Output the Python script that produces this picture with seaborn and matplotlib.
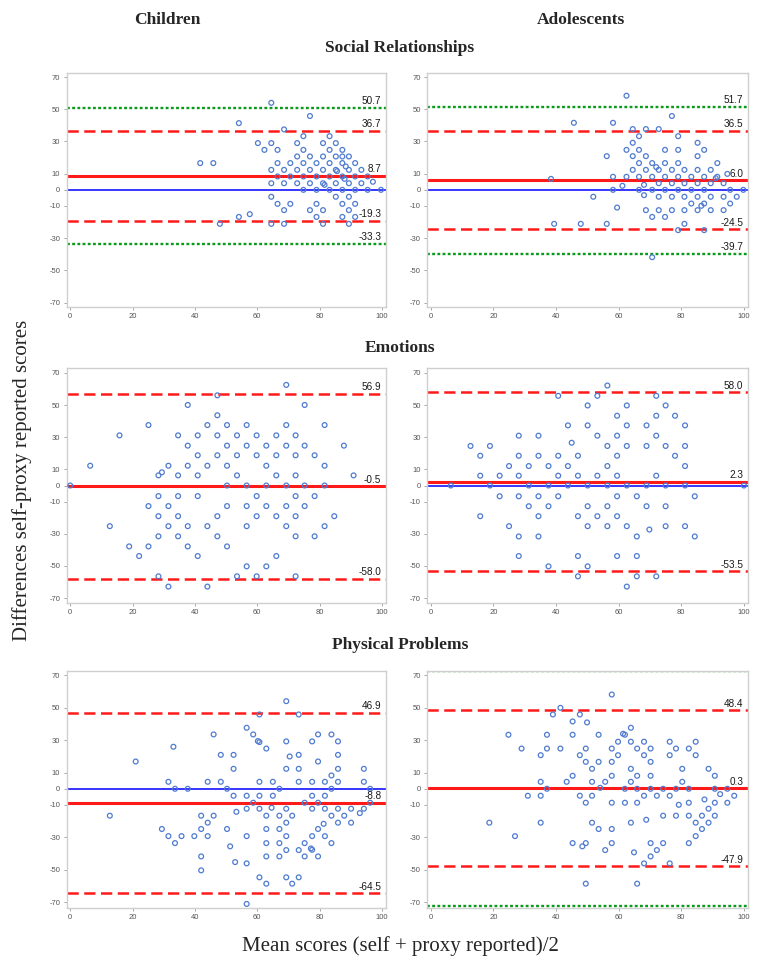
import matplotlib
matplotlib.use("Agg")
import matplotlib.pyplot as plt
import seaborn as sns
import pandas as pd

sns.set_theme(style="white")
plt.rcParams['font.family'] = ['Liberation Sans', 'DejaVu Sans']
plt.rcParams['axes.unicode_minus'] = False

# ---------------- data ----------------
# Children - Social Relationships
sr_child_x = [64.5, 76.9, 54.1, 68.6, 60.2, 64.5, 62.3, 66.5, 72.8, 74.8, 83.2, 81.1, 85.2, 72.8, 76.9, 74.8,
              83.2, 81.1, 85.2, 87.3, 87.3, 41.7, 45.9, 66.5, 70.6, 74.8, 79.0, 83.2, 87.3, 89.4, 91.4, 88.4,
              64.5, 68.6, 72.8, 76.9, 81.1, 85.2, 85.6, 89.4, 93.4, 66.5, 70.6, 74.8, 79.0, 83.2, 87.3, 88.0,
              91.4, 95.4, 64.5, 68.6, 72.8, 76.9, 81.1, 81.6, 85.2, 89.4, 93.4, 97.1, 74.8, 79.0, 83.2, 87.3,
              91.4, 95.4, 99.7, 64.5, 85.2, 89.4, 66.5, 70.6, 79.0, 87.3, 91.4, 68.6, 76.9, 81.1, 89.4, 54.1,
              57.6, 79.0, 87.3, 91.4, 48.0, 64.5, 68.6, 81.1, 89.4]
sr_child_y = [54.0, 45.8, 41.4, 37.5, 29.0, 29.0, 24.8, 24.8, 29.0, 33.3, 33.3, 29.0, 29.0, 20.7, 20.7, 24.8,
              24.8, 20.7, 20.7, 24.8, 20.7, 16.6, 16.6, 16.6, 16.6, 16.6, 16.6, 16.6, 16.6, 20.7, 16.6, 14.5,
              12.4, 12.4, 12.4, 12.4, 12.4, 12.4, 11.6, 12.4, 12.4, 8.3, 8.3, 8.3, 8.3, 8.3, 8.3, 6.8,
              8.3, 8.3, 4.1, 4.1, 4.1, 4.1, 4.1, 3.1, 4.1, 4.1, 4.1, 5.0, 0.0, 0.0, 0.0, 0.0,
              0.0, 0.0, 0.0, -4.3, -4.3, -4.3, -8.7, -8.7, -8.7, -8.7, -8.7, -12.6, -12.6, -12.6, -12.6, -16.8,
              -15.1, -16.8, -16.8, -16.8, -21.1, -21.1, -21.1, -21.1, -21.1]
sr_child_lines = [50.7, 36.7, 8.7, -19.3, -33.3]

# Adolescents - Social Relationships
sr_adol_x = [62.5, 77.0, 45.7, 58.2, 64.5, 68.7, 72.8, 66.5, 79.0, 64.5, 85.2, 62.5, 66.5, 74.8, 79.0, 87.3,
             56.2, 64.5, 68.7, 85.2, 66.5, 70.7, 74.8, 79.0, 91.5, 72.0, 64.5, 68.7, 72.8, 77.0, 81.0, 85.2,
             89.4, 94.7, 38.4, 58.2, 62.5, 66.5, 70.7, 74.8, 79.0, 83.2, 87.3, 91.5, 91.0, 61.2, 68.1, 72.8,
             77.0, 81.0, 85.2, 89.4, 93.5, 58.2, 66.5, 70.7, 74.8, 79.0, 83.2, 87.3, 95.6, 99.8, 51.9, 68.1,
             72.8, 77.0, 81.0, 85.2, 89.4, 93.5, 97.7, 83.2, 87.3, 95.6, 86.4, 59.5, 68.7, 72.8, 77.0, 81.0,
             85.2, 89.4, 93.5, 70.7, 74.8, 39.4, 47.9, 56.2, 81.0, 79.0, 87.3, 70.7]
sr_adol_y = [58.4, 45.8, 41.6, 41.6, 37.7, 37.7, 37.7, 33.3, 33.3, 29.2, 29.2, 24.8, 24.8, 24.8, 24.8, 24.8,
             20.9, 20.9, 20.9, 20.9, 16.6, 16.6, 16.6, 16.6, 16.6, 14.1, 12.4, 12.4, 12.4, 12.4, 12.4, 12.4,
             12.4, 9.9, 6.8, 8.1, 8.1, 8.1, 8.1, 8.1, 8.1, 8.1, 8.1, 8.1, 7.2, 2.5, 3.1, 4.1,
             4.1, 4.1, 4.1, 4.1, 4.1, 0.0, 0.0, 0.0, 0.0, 0.0, 0.0, 0.0, 0.0, 0.0, -4.3, -3.3,
             -4.3, -4.3, -4.3, -4.3, -4.3, -4.3, -4.3, -8.5, -8.5, -8.5, -9.9, -11.0, -12.6, -12.6, -12.6, -12.6,
             -12.6, -12.6, -12.6, -16.8, -16.8, -21.1, -21.1, -21.1, -21.1, -25.0, -25.0, -41.8]
sr_adol_lines = [51.7, 36.5, 6.0, -24.5, -39.7]

# Children - Emotions
em_child_x = [69.3, 47.2, 37.7, 75.2, 47.2, 25.1, 44.0, 50.3, 56.6, 69.3, 81.6, 15.8, 34.6, 40.9, 47.2, 53.5,
              59.8, 66.1, 72.3, 37.7, 50.3, 56.6, 62.9, 69.3, 75.2, 87.8, 40.9, 47.2, 53.5, 59.8, 66.1, 72.3,
              78.4, 6.4, 31.5, 37.7, 44.0, 50.3, 62.9, 81.6, 28.3, 29.4, 34.6, 40.9, 53.5, 66.1, 72.3, 90.9,
              0.0, 50.3, 56.6, 62.9, 69.3, 75.2, 81.6, 28.3, 34.6, 40.9, 59.8, 72.3, 78.4, 25.1, 31.5, 50.3,
              56.6, 62.9, 69.3, 75.2, 28.3, 34.6, 47.2, 59.8, 66.1, 72.3, 84.7, 12.7, 31.5, 37.7, 44.0, 56.6,
              69.3, 81.6, 28.3, 34.6, 47.2, 72.3, 78.4, 18.9, 25.1, 37.7, 50.3, 22.1, 40.9, 66.1, 56.6, 62.9,
              28.3, 53.5, 59.8, 72.3, 31.5, 44.0]
em_child_y = [62.6, 56.1, 50.1, 50.1, 43.7, 37.6, 37.6, 37.6, 37.6, 37.6, 37.6, 31.2, 31.2, 31.2, 31.2, 31.2,
              31.2, 31.2, 31.2, 24.8, 24.8, 24.8, 24.8, 24.8, 24.8, 24.8, 18.8, 18.8, 18.8, 18.8, 18.8, 18.8,
              18.8, 12.3, 12.3, 12.3, 12.3, 12.3, 12.3, 12.3, 6.3, 8.2, 6.3, 6.3, 6.3, 6.3, 6.3, 6.3,
              0.0, 0.0, 0.0, 0.0, 0.0, 0.0, 0.0, -6.6, -6.6, -6.6, -6.6, -6.6, -6.6, -12.8, -12.8, -12.8,
              -12.8, -12.8, -12.8, -12.8, -19.1, -19.1, -19.1, -19.1, -19.1, -19.1, -19.1, -25.3, -25.3, -25.3, -25.3, -25.3,
              -25.3, -25.3, -31.6, -31.6, -31.6, -31.6, -31.6, -37.9, -37.9, -37.9, -37.9, -43.9, -43.9, -43.9, -50.3, -50.3,
              -56.5, -56.5, -56.5, -56.5, -62.9, -62.9]
em_child_lines = [56.9, -0.5, -58.0]

# Adolescents - Emotions
em_adol_x = [56.4, 40.7, 53.2, 72.0, 50.1, 62.6, 75.0, 59.5, 72.0, 78.0, 43.8, 50.1, 62.6, 68.9, 81.2, 28.1,
             34.4, 53.2, 59.5, 72.0, 12.7, 18.9, 45.0, 56.4, 62.6, 68.9, 75.0, 81.2, 15.8, 28.1, 34.4, 40.7,
             47.0, 59.5, 78.0, 25.0, 31.3, 37.6, 43.8, 56.4, 81.2, 15.8, 22.0, 28.1, 40.7, 47.0, 53.2, 59.5,
             72.0, 6.4, 18.9, 31.3, 37.6, 43.8, 50.1, 56.4, 62.6, 68.9, 75.0, 81.2, 100.0, 22.0, 28.1, 34.4,
             40.7, 59.5, 65.8, 84.3, 31.3, 37.6, 50.1, 56.4, 68.9, 75.0, 15.8, 34.4, 47.0, 53.2, 59.5, 25.0,
             50.1, 56.4, 62.6, 69.8, 75.0, 81.2, 28.1, 34.4, 65.8, 84.3, 28.1, 47.0, 59.5, 65.8, 37.6, 50.1,
             47.0, 65.8, 72.0, 62.6]
em_adol_y = [62.2, 55.8, 55.8, 55.8, 49.8, 49.8, 49.8, 43.4, 43.4, 43.4, 37.4, 37.4, 37.4, 37.4, 37.4, 31.0,
             31.0, 31.0, 31.0, 31.0, 24.6, 24.6, 26.6, 24.6, 24.6, 24.6, 24.6, 24.6, 18.5, 18.5, 18.5, 18.5,
             18.5, 18.5, 18.5, 12.1, 12.1, 12.1, 12.1, 12.1, 12.1, 6.1, 6.1, 6.1, 6.1, 6.1, 6.1, 6.1,
             6.1, 0.0, 0.0, 0.0, 0.0, 0.0, 0.0, 0.0, 0.0, 0.0, 0.0, 0.0, 0.0, -6.7, -6.7, -6.7,
             -6.7, -6.7, -6.7, -6.7, -12.9, -12.9, -12.9, -12.9, -12.9, -12.9, -19.1, -19.1, -19.1, -19.1, -19.1, -25.3,
             -25.3, -25.3, -25.3, -27.4, -25.3, -25.3, -31.7, -31.7, -31.7, -31.7, -43.9, -43.9, -43.9, -43.9, -50.3, -50.3,
             -56.5, -56.5, -56.5, -62.9]
em_adol_lines = [58.0, 2.3, -53.5]

# Children - Physical Problems
pp_child_x = [69.3, 60.7, 73.3, 56.6, 46.0, 58.7, 79.5, 83.8, 60.2, 60.7, 69.3, 77.6, 85.9, 33.1, 62.9, 48.3,
              52.4, 70.4, 73.3, 85.9, 21.0, 79.5, 52.4, 69.3, 73.3, 85.9, 94.2, 83.8, 31.5, 44.1, 48.3, 60.7,
              65.0, 73.3, 77.6, 81.7, 85.9, 94.2, 33.6, 37.7, 50.3, 67.1, 83.8, 96.2, 52.4, 56.6, 60.7, 65.0,
              77.6, 81.7, 58.7, 75.2, 79.5, 96.2, 56.6, 60.7, 64.6, 69.3, 77.6, 81.7, 85.9, 90.1, 94.2, 53.3,
              12.7, 42.0, 46.0, 62.9, 67.1, 71.2, 83.8, 87.9, 92.9, 44.1, 69.3, 81.3, 85.9, 90.1, 29.4, 42.0,
              50.3, 62.9, 67.1, 79.5, 31.5, 35.7, 39.8, 44.1, 56.6, 69.3, 77.6, 81.7, 33.6, 62.9, 67.1, 75.2,
              83.8, 51.3, 77.2, 77.6, 69.3, 73.3, 42.0, 62.9, 67.1, 75.2, 79.5, 52.9, 56.6, 42.0, 60.7, 69.3,
              73.3, 62.9, 71.2, 56.6]
pp_child_y = [54.0, 45.8, 45.8, 37.6, 33.5, 33.5, 33.5, 33.5, 29.4, 28.8, 29.2, 29.2, 29.2, 25.9, 24.8, 20.9,
              20.9, 19.9, 20.9, 20.9, 16.8, 16.8, 12.3, 12.3, 12.3, 12.3, 12.3, 8.2, 4.3, 4.3, 4.3, 4.3,
              4.3, 4.3, 4.3, 4.3, 4.3, 4.3, 0.0, 0.0, 0.0, 0.0, 0.0, 0.0, -4.3, -4.3, -4.3, -4.3,
              -4.3, -4.3, -8.6, -8.6, -8.6, -8.6, -12.3, -12.3, -11.7, -12.3, -12.3, -12.3, -12.3, -12.3, -12.3, -14.2,
              -16.6, -16.6, -16.6, -16.6, -16.6, -16.6, -16.6, -16.6, -15.0, -20.9, -20.9, -21.6, -20.9, -20.9, -24.8, -24.8,
              -24.8, -24.8, -24.8, -24.8, -29.2, -29.2, -29.2, -29.2, -29.2, -29.2, -29.2, -29.2, -33.5, -33.5, -33.5, -33.5,
              -33.5, -35.5, -36.8, -37.6, -37.8, -37.8, -41.7, -41.7, -41.7, -41.7, -41.7, -45.2, -46.0, -50.3, -54.6, -54.6,
              -54.6, -58.5, -58.5, -71.0]
pp_child_lines = [46.9, -8.8, -64.5]

# Adolescents - Physical Problems
pp_adol_x = [57.8, 41.4, 39.0, 47.6, 45.3, 49.9, 63.9, 24.8, 37.1, 45.3, 53.6, 61.4, 62.0, 59.8, 63.9, 68.1,
             76.3, 84.6, 29.0, 37.1, 41.4, 49.5, 57.8, 65.9, 70.2, 78.3, 82.4, 35.1, 47.6, 59.8, 68.1, 76.3,
             84.6, 49.5, 53.6, 57.8, 70.2, 51.5, 63.9, 80.3, 88.7, 45.3, 57.8, 65.9, 70.2, 90.7, 35.1, 43.4,
             51.5, 55.7, 63.9, 80.3, 37.1, 54.1, 62.0, 65.9, 70.2, 74.2, 78.3, 82.4, 90.7, 94.7, 31.0, 35.1,
             47.6, 51.5, 68.1, 72.2, 76.3, 92.4, 96.9, 87.4, 49.5, 57.8, 62.0, 65.9, 82.4, 90.7, 94.7, 79.2,
             88.7, 74.2, 78.3, 82.4, 86.6, 90.7, 68.8, 18.7, 35.1, 51.5, 63.9, 84.6, 88.7, 53.6, 57.8, 86.6,
             26.9, 84.6, 45.3, 49.5, 57.8, 70.2, 74.2, 82.4, 48.4, 55.7, 72.2, 64.9, 70.2, 68.1, 76.3, 49.5,
             65.9]
pp_adol_y = [58.1, 49.9, 45.8, 45.8, 41.5, 40.9, 37.6, 33.3, 33.3, 33.3, 33.3, 33.9, 33.3, 29.0, 29.0, 29.0,
             29.0, 29.0, 24.8, 24.8, 24.8, 24.8, 24.8, 24.8, 24.8, 24.8, 24.8, 20.7, 20.7, 20.7, 20.7, 20.7,
             20.7, 16.6, 16.6, 16.6, 16.6, 12.3, 12.3, 12.3, 12.3, 8.0, 8.0, 8.0, 8.0, 8.0, 4.3, 4.3,
             4.3, 4.3, 4.3, 4.3, 0.0, 0.6, 0.0, 0.0, 0.0, 0.0, 0.0, 0.0, 0.0, 0.0, -4.3, -4.3,
             -4.3, -4.3, -4.3, -4.3, -4.3, -3.3, -4.3, -6.6, -8.6, -8.6, -8.6, -8.6, -8.6, -8.6, -8.6, -9.9,
             -12.3, -16.6, -16.6, -16.6, -16.6, -16.6, -19.1, -20.9, -20.9, -20.9, -20.9, -20.9, -20.9, -24.8, -24.8, -24.8,
             -29.2, -29.2, -33.5, -33.5, -33.5, -33.5, -33.5, -33.5, -35.5, -37.8, -37.8, -39.2, -41.7, -46.0, -46.0, -58.5,
             -58.5]
pp_adol_lines = [72.3, 48.4, 0.3, -47.9, -72.5]

panel_titles = ["Children", "Adolescents"]
row_titles = ["Social Relationships", "Emotions", "Physical Problems"]
y_ticks = [-70, -50, -30, -10, 0, 10, 30, 50, 70]
x_ticks = [0, 20, 40, 60, 80, 100]

# ---------------- layout ----------------
W, H = 758, 967
fig = plt.figure(figsize=(W / 100, H / 100), dpi=100)


def rect(x0, y0, x1, y1):
    return [x0 / W, 1 - y1 / H, (x1 - x0) / W, (y1 - y0) / H]


cols = [(66.5, 386), (427, 748)]
rows = [(73, 307), (368, 603), (671, 908)]
ylims = [(-72.7, 72.5), (-73.1, 73.1), (-73.5, 72.6)]

BLUE_PT = "#4f7bd0"
RED = "#ff1a1a"
GREEN = "#0a9a1a"
BLUE = "#2626ff"


def line_style(kind):
    if kind == "mean":
        return dict(color=RED, lw=2.2, ls="-")
    if kind == "loa":
        return dict(color=RED, lw=1.8, ls=(0, (4.5, 2.2)))
    return dict(color=GREEN, lw=1.7, ls=(0, (1.2, 1.0)))


panels = [
    [(sr_child_x, sr_child_y, sr_child_lines, ["green", "loa", "mean", "loa", "green"], [True] * 5),
     (sr_adol_x, sr_adol_y, sr_adol_lines, ["green", "loa", "mean", "loa", "green"], [True] * 5)],
    [(em_child_x, em_child_y, em_child_lines, ["loa", "mean", "loa"], [True] * 3),
     (em_adol_x, em_adol_y, em_adol_lines, ["loa", "mean", "loa"], [True] * 3)],
    [(pp_child_x, pp_child_y, pp_child_lines, ["loa", "mean", "loa"], [True] * 3),
     (pp_adol_x, pp_adol_y, pp_adol_lines, ["green", "loa", "mean", "loa", "green"],
      [False, True, True, True, False])],
]

for r, (y0, y1) in enumerate(rows):
    for c, (x0, x1) in enumerate(cols):
        xs, ys, lines, kinds, labelled = panels[r][c]
        ax = fig.add_axes(rect(x0, y0, x1, y1))
        df = pd.DataFrame({"mean": xs, "diff": ys})
        ax.axhline(0, color=BLUE, lw=1.3, zorder=1)
        for v, k, lab in zip(lines, kinds, labelled):
            ax.axhline(v, zorder=2, **line_style(k))
            if lab:
                ax.annotate(f"{v:.1f}", xy=(99.8, v), xytext=(0, 1.2), textcoords="offset points",
                            ha="right", va="bottom", fontsize=7.2, color="#1a1a1a", zorder=5)
        sns.scatterplot(data=df, x="mean", y="diff", ax=ax, marker="o", s=12,
                        facecolor="none", edgecolor=BLUE_PT, linewidth=0.9, zorder=3, legend=False)
        ax.set_xlim(-1.2, 101.3)
        ax.set_ylim(*ylims[r])
        ax.set_xticks(x_ticks)
        ax.set_yticks(y_ticks)
        ax.set_xlabel("")
        ax.set_ylabel("")
        ax.tick_params(axis="both", labelsize=5.5, labelcolor="#555555", color="#999999",
                       length=2.5, width=0.6, pad=2, bottom=True, left=True)
        for sp in ax.spines.values():
            sp.set_color("#cfcfcf")
            sp.set_linewidth(1.0)

serif = ["Liberation Serif", "DejaVu Serif"]
fig.text(167 / W, 1 - 20 / H, panel_titles[0], ha="center", va="center", fontsize=12.5,
         fontweight="bold", family=serif)
fig.text(581 / W, 1 - 20 / H, panel_titles[1], ha="center", va="center", fontsize=12.5,
         fontweight="bold", family=serif)
for t, yy in zip(row_titles, [48, 348, 645]):
    fig.text(400 / W, 1 - yy / H, t, ha="center", va="center", fontsize=12.5,
             fontweight="bold", family=serif)
fig.text(400 / W, 1 - 946 / H, "Mean scores (self + proxy reported)/2", ha="center", va="center",
         fontsize=15, family=serif)
fig.text(22 / W, 1 - 480 / H, "Differences self-proxy reported scores", ha="center", va="center",
         fontsize=15, family=serif, rotation=90)

fig.savefig("out.png", dpi=100)
